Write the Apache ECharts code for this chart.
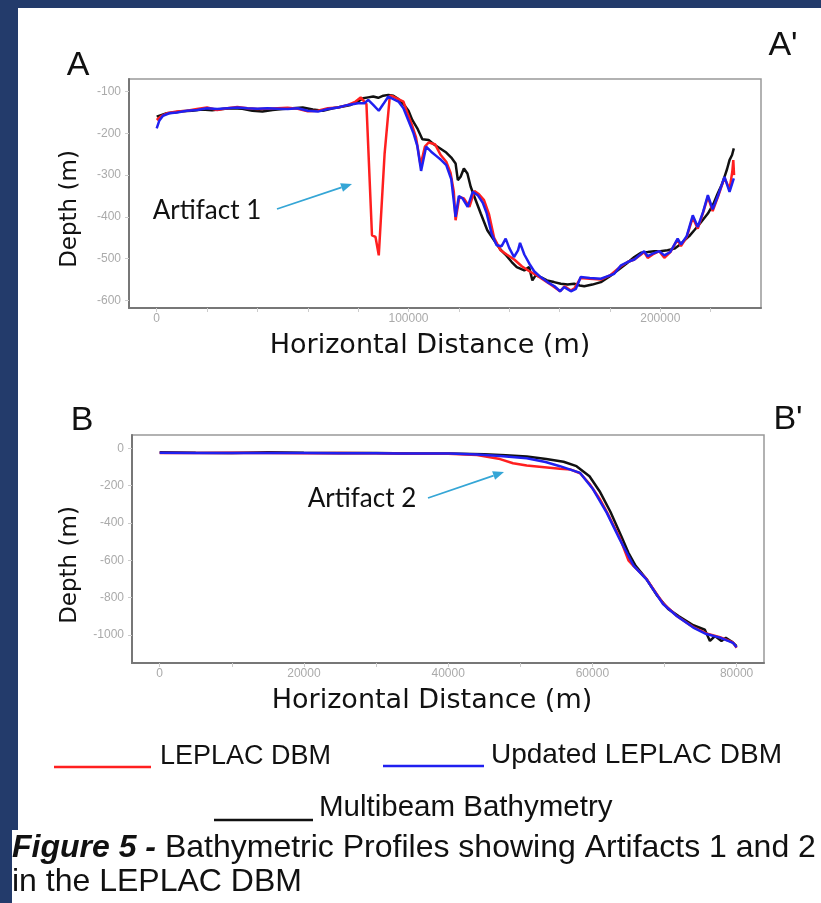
<!DOCTYPE html>
<html>
<head>
<meta charset="utf-8">
<title>Bathymetric Profiles</title>
<script src="https://cdn.jsdelivr.net/npm/echarts@6/dist/echarts.min.js"></script>
<style>
  html, body { margin: 0; padding: 0; background: #233b6b; }
  #chart { width: 821px; height: 903px; }
</style>
</head>
<body>
<div id="chart"></div>
<script>
// ---- profile A-A' (distance m, depth m) ----
const aTicksX = [0, 20000, 40000, 60000, 80000, 100000, 120000, 140000, 160000, 180000, 200000, 220000];
const aLabelsX = [0, 100000, 200000];
const aLabelsY = [-100, -200, -300, -400, -500, -600];

const aMultibeam = [
  [0,-160],[2000,-156],[4000,-152],[7000,-150],[10000,-147],[14000,-146],[18000,-143],[22000,-145],
  [26000,-142],[30000,-140],[34000,-141],[38000,-146],[42000,-148],[46000,-144],[50000,-142],[54000,-140],
  [58000,-138],[62000,-143],[66000,-146],[70000,-140],[74000,-136],[77000,-132],[80000,-124],[82000,-116],
  [84000,-114],[86000,-112],[88000,-115],[90000,-110],[92000,-108],[94000,-110],[96000,-118],[98000,-130],
  [100000,-146],[101500,-168],[103500,-188],[105500,-214],[108000,-216],[110000,-226],[112000,-234],
  [115000,-246],[117000,-258],[118700,-272],[119600,-312],[120700,-304],[122000,-284],[123400,-296],
  [124700,-328],[126700,-360],[128700,-392],[131300,-432],[134000,-456],[136500,-478],[138500,-490],
  [141000,-508],[143000,-520],[146000,-528],[147900,-520],[149200,-552],[150500,-540],[152500,-544],
  [155000,-552],[157800,-556],[160500,-560],[163200,-562],[165800,-560],[168000,-564],[169800,-566],
  [173000,-562],[176400,-556],[180000,-542],[183000,-528],[186500,-512],[189700,-496],[192300,-486],
  [195000,-484],[197600,-482],[200000,-482],[202900,-480],[205600,-476],[207500,-468],[209600,-456],
  [211500,-446],[213500,-432],[216000,-414],[218900,-392],[221000,-370],[222800,-344],[224500,-322],
  [225500,-304],[226500,-286],[227500,-264],[228500,-252],[229200,-236]
];
const aLeplac = [
  [0,-168],[2000,-158],[4000,-152],[8000,-148],[12000,-146],[16000,-142],[20000,-138],[24000,-144],
  [28000,-140],[32000,-137],[36000,-140],[40000,-142],[44000,-141],[48000,-140],[52000,-139],[56000,-141],
  [60000,-147],[64000,-146],[68000,-140],[72000,-138],[76000,-132],[79000,-124],[81000,-114],[83300,-130],
  [85500,-444],[86900,-448],[88200,-492],[90500,-250],[92600,-110],[94000,-112],[96000,-118],[98000,-124],
  [99500,-150],[101500,-182],[103000,-210],[104800,-276],[106500,-232],[108000,-222],[110500,-226],
  [112800,-252],[115000,-268],[116700,-294],[118000,-340],[118700,-408],[120200,-352],[122000,-356],
  [124200,-376],[126200,-338],[128000,-346],[130000,-360],[132000,-394],[134000,-450],[136600,-480],
  [139000,-490],[142000,-502],[145000,-518],[148000,-530],[151000,-540],[154000,-552],[157000,-564],
  [160200,-578],[162000,-566],[164500,-576],[166000,-570],[168400,-546],[172000,-548],[176400,-550],
  [180000,-540],[184400,-518],[187000,-508],[189700,-502],[192000,-492],[193600,-484],[195000,-498],
  [197000,-490],[199600,-482],[201600,-498],[204000,-484],[206900,-454],[208200,-470],[210500,-448],
  [212900,-402],[214900,-428],[217000,-390],[218900,-352],[220800,-386],[223000,-350],[225500,-306],
  [227500,-334],[228600,-292],[229000,-264],[229300,-300]
];
const aUpdated = [
  [0,-188],[1000,-170],[2500,-158],[5000,-152],[8000,-150],[12000,-146],[16000,-144],[20000,-140],
  [24000,-142],[28000,-140],[32000,-138],[36000,-140],[40000,-141],[44000,-140],[48000,-141],[52000,-142],
  [56000,-140],[60000,-146],[64000,-148],[68000,-142],[72000,-138],[76000,-132],[80000,-128],[82500,-128],
  [84000,-120],[86000,-132],[88200,-146],[90000,-130],[92000,-112],[94000,-118],[96000,-124],[98000,-140],
  [100000,-170],[102000,-200],[103500,-230],[105000,-290],[107000,-232],[109000,-244],[111000,-254],
  [113000,-264],[115000,-276],[117000,-310],[118700,-400],[120000,-350],[121500,-356],[123500,-376],
  [125500,-340],[127500,-348],[129500,-366],[131000,-390],[133000,-440],[135000,-468],[137000,-470],
  [138600,-452],[140000,-474],[141900,-496],[143500,-480],[144300,-462],[146000,-490],[148000,-512],
  [149900,-530],[152500,-544],[155200,-556],[158000,-566],[160200,-578],[161800,-568],[164500,-578],
  [166500,-572],[168400,-544],[172000,-546],[176400,-548],[180000,-540],[181700,-536],[184400,-516],
  [187000,-508],[189700,-502],[193600,-482],[195000,-494],[197000,-488],[199600,-482],[201600,-492],
  [204000,-484],[206900,-452],[208200,-466],[210500,-446],[212900,-396],[214900,-424],[217000,-388],
  [218900,-348],[220800,-382],[223000,-348],[225500,-304],[227500,-340],[229200,-308]
];

// ---- profile B-B' ----
const bTicksX = [0, 10000, 20000, 30000, 40000, 50000, 60000, 70000, 80000];
const bLabelsX = [0, 20000, 40000, 60000, 80000];
const bLabelsY = [0, -200, -400, -600, -800, -1000];

const bMultibeam = [
  [0,-22],[5000,-24],[10000,-25],[15000,-22],[20000,-24],[25000,-25],[30000,-26],[35000,-28],[40000,-28],
  [45000,-32],[48000,-38],[50900,-44],[53600,-58],[56000,-72],[57800,-96],[59600,-150],[61000,-230],
  [62500,-340],[64000,-470],[65000,-560],[66000,-630],[67500,-700],[69000,-790],[70500,-860],[72000,-900],
  [74000,-948],[75600,-972],[76300,-1032],[77000,-1006],[77900,-1032],[78500,-1015],[79300,-1035],[80000,-1060]
];
const bLeplac = [
  [0,-25],[5000,-26],[10000,-24],[15000,-25],[20000,-27],[25000,-26],[30000,-27],[35000,-30],[40000,-30],
  [44000,-36],[47200,-58],[49000,-80],[50900,-92],[53000,-100],[55500,-110],[57000,-114],[58300,-134],
  [59600,-190],[61000,-270],[62000,-340],[63800,-480],[65000,-600],[65700,-630],[67500,-700],[69800,-830],
  [71700,-898],[74000,-958],[75800,-992],[77700,-1012],[79500,-1040],[80000,-1068]
];
const bUpdated = [
  [0,-24],[5000,-25],[10000,-26],[15000,-25],[20000,-26],[25000,-27],[30000,-27],[33300,-28],[40200,-28],
  [44000,-34],[47200,-42],[50900,-54],[53500,-74],[55500,-96],[58300,-132],[60100,-220],[62000,-346],
  [63800,-488],[65700,-628],[67500,-702],[69800,-834],[71700,-898],[74000,-960],[75800,-995],[77700,-1014],
  [79500,-1042],[80000,-1066]
];

const RED = '#ff1f1f';
const BLUE = '#2020f0';
const BLACK = '#111111';
const ARROW = '#35a6d6';

const chart = echarts.init(document.getElementById('chart'), null, { renderer: 'canvas' });

function xAxisOf(grid, min, max, ticks, labels) {
  return {
    gridIndex: grid, type: 'value', min: min, max: max,
    axisLine: { show: true, onZero: false, lineStyle: { color: '#777', width: 2 } },
    axisTick: { show: true, customValues: ticks, length: 4, lineStyle: { color: '#ccc' } },
    axisLabel: { customValues: labels, color: '#aaa', fontSize: 12, margin: 5,
      fontFamily: 'Liberation Sans', formatter: v => String(v) },
    splitLine: { show: false }
  };
}
function yAxisOf(grid, min, max, labels) {
  return {
    gridIndex: grid, type: 'value', min: min, max: max,
    axisLine: { show: true, onZero: false, lineStyle: { color: '#777', width: 2 } },
    axisTick: { show: true, customValues: labels, length: 4, lineStyle: { color: '#ccc' } },
    axisLabel: { customValues: labels, color: '#aaa', fontSize: 12, margin: 8,
      fontFamily: 'Liberation Sans', formatter: v => String(v) },
    splitLine: { show: false }
  };
}
function line(data, color, xi, z) {
  return {
    type: 'line', data: data, xAxisIndex: xi, yAxisIndex: xi,
    showSymbol: false, symbol: 'none', z: z,
    lineStyle: { color: color, width: 2.5 }, itemStyle: { color: color }
  };
}
function label(text, x, y, font, extra) {
  return Object.assign({
    type: 'text', x: x, y: y, z: 50,
    style: { text: text, font: font, fill: '#111', align: 'center', verticalAlign: 'middle' }
  }, extra || {});
}
function leftLabel(text, x, y, font) {
  return { type: 'text', x: x, y: y, z: 50,
    style: { text: text, font: font, fill: '#111', align: 'left', verticalAlign: 'middle' } };
}
function arrow(x1, y1, x2, y2) {
  const a = Math.atan2(y2 - y1, x2 - x1), L = 11, W = 4.5;
  const bx = x2 - L * Math.cos(a), by = y2 - L * Math.sin(a);
  return [
    { type: 'line', z: 50, shape: { x1: x1, y1: y1, x2: bx, y2: by }, style: { stroke: ARROW, lineWidth: 1.8 } },
    { type: 'polygon', z: 50, shape: { points: [[x2, y2],
      [bx + W * Math.sin(a), by - W * Math.cos(a)], [bx - W * Math.sin(a), by + W * Math.cos(a)]] },
      style: { fill: ARROW } }
  ];
}

const depthFont = '23px "DejaVu Sans"';
const distFont = '27px "DejaVu Sans"';
const legendFont = '28px "Liberation Sans"';
const captionFont = '32px "Liberation Sans"';

const option = {
  backgroundColor: '#233b6b',
  animation: false,
  grid: [
    { left: 129, top: 79, width: 632, height: 229, show: true, backgroundColor: '#fff',
      borderColor: '#999', borderWidth: 1.5 },
    { left: 132, top: 435, width: 632, height: 228, show: true, backgroundColor: '#fff',
      borderColor: '#999', borderWidth: 1.5 }
  ],
  xAxis: [
    xAxisOf(0, -11000, 240000, aTicksX, aLabelsX),
    xAxisOf(1, -3840, 83800, bTicksX, bLabelsX)
  ],
  yAxis: [
    yAxisOf(0, -618, -70, aLabelsY),
    yAxisOf(1, -1150, 71, bLabelsY)
  ],
  series: [
    line(aMultibeam, BLACK, 0, 2),
    line(aLeplac, RED, 0, 3),
    line(aUpdated, BLUE, 0, 4),
    line(bMultibeam, BLACK, 1, 2),
    line(bLeplac, RED, 1, 3),
    line(bUpdated, BLUE, 1, 4)
  ],
  graphic: [
    { type: 'rect', z: -10, silent: true, shape: { x: 18, y: 8, width: 803, height: 830 }, style: { fill: '#fff' } },
    { type: 'rect', z: -10, silent: true, shape: { x: 12, y: 830, width: 809, height: 73 }, style: { fill: '#fff' } },

    label('A', 78, 66, '34px "Liberation Sans"'),
    label("A'", 783, 46, '34px "Liberation Sans"'),
    label('B', 82, 421, '34px "Liberation Sans"'),
    label("B'", 788, 420, '34px "Liberation Sans"'),

    label('Depth (m)', 70, 209, depthFont, { rotation: Math.PI / 2 }),
    label('Depth (m)', 70, 565, depthFont, { rotation: Math.PI / 2 }),
    label('Horizontal Distance (m)', 430, 346, distFont),
    label('Horizontal Distance (m)', 432, 701, distFont),

    label('Artifact 1', 207, 211, '26px Lato'),
    label('Artifact 2', 362, 499, '26px Lato'),
    ...arrow(277, 209, 352, 184),
    ...arrow(428, 498, 504, 472),

    { type: 'line', z: 50, shape: { x1: 54, y1: 767, x2: 151, y2: 767 }, style: { stroke: RED, lineWidth: 2.5 } },
    leftLabel('LEPLAC DBM', 160, 757, '27px "Liberation Sans"'),
    { type: 'line', z: 50, shape: { x1: 383, y1: 766, x2: 484, y2: 766 }, style: { stroke: BLUE, lineWidth: 2.5 } },
    leftLabel('Updated LEPLAC DBM', 491, 755, legendFont),
    { type: 'line', z: 50, shape: { x1: 214, y1: 820, x2: 313, y2: 820 }, style: { stroke: BLACK, lineWidth: 2.5 } },
    leftLabel('Multibeam Bathymetry', 319, 808, '29.5px "Liberation Sans"'),

    { type: 'text', x: 12, y: 848, z: 50, style: {
      text: '{b|Figure 5 - }{r|Bathymetric Profiles showing Artifacts 1 and 2}',
      verticalAlign: 'middle', align: 'left', fill: '#111',
      rich: {
        b: { font: 'italic bold 32px "Liberation Sans"', fill: '#111' },
        r: { font: captionFont, fill: '#111' }
      } } },
    leftLabel('in the LEPLAC DBM', 12, 882, captionFont)
  ]
};

chart.setOption(option);
</script>
</body>
</html>
